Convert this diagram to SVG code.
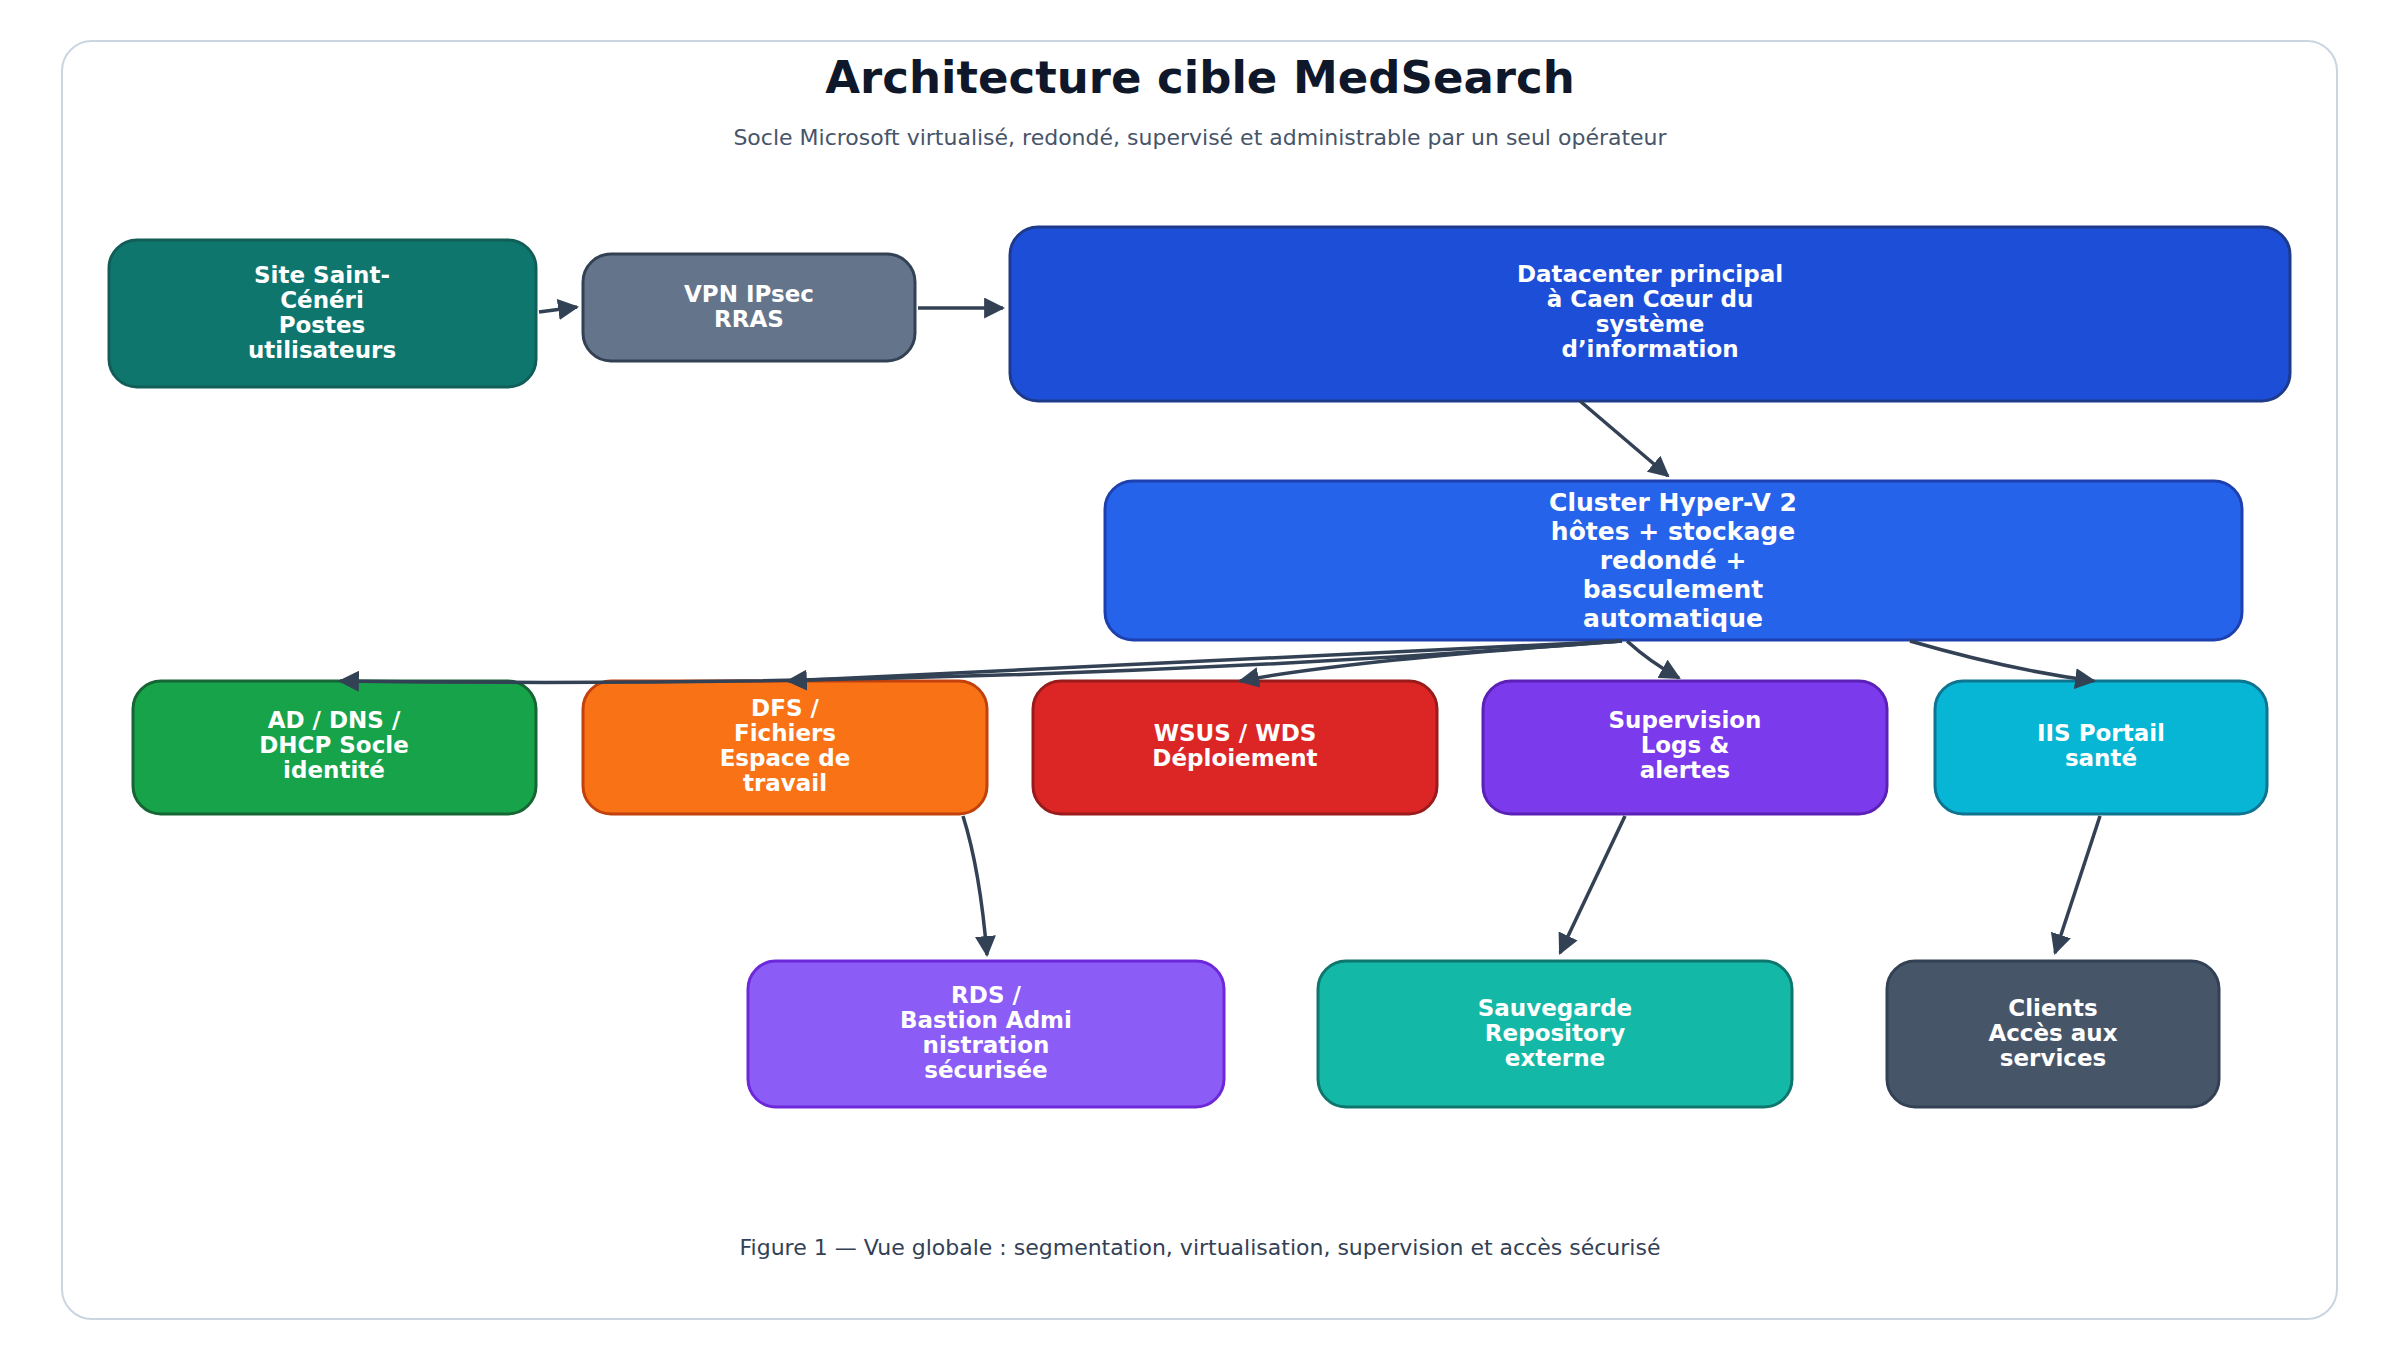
<svg xmlns="http://www.w3.org/2000/svg" width="2400" height="1362" viewBox="0 0 2400 1362">
<defs>
<marker id="ah" viewBox="0 0 10 10" refX="9" refY="5" markerWidth="6" markerHeight="6" markerUnits="strokeWidth" orient="auto"><path d="M0,0 L10,5 L0,10 z" fill="#334155"/></marker>
<style>
.n{stroke-width:3}
.t{font-family:"DejaVu Sans",sans-serif;font-weight:bold;font-size:23px;fill:#fff;text-anchor:middle}
.c path{fill:none;stroke:#334155;stroke-width:3.5;marker-end:url(#ah)}
</style>
</defs>
<rect width="2400" height="1362" fill="#fff"/>
<rect x="62" y="41" width="2275" height="1278" rx="30" fill="#fff" stroke="#cbd5e1" stroke-width="2"/>
<text x="1200" y="93" font-family="DejaVu Sans,sans-serif" font-weight="bold" font-size="45" fill="#0f172a" text-anchor="middle">Architecture cible MedSearch</text>
<text x="1200" y="145" font-family="DejaVu Sans,sans-serif" font-size="22" fill="#475569" text-anchor="middle">Socle Microsoft virtualisé, redondé, supervisé et administrable par un seul opérateur</text>
<g id="site"><rect class="n" x="109" y="240" width="427" height="147" rx="28" fill="#0f766e" stroke="#115e59"/><text class="t" x="322" y="283">Site Saint-<tspan x="322" dy="25">Cénéri</tspan><tspan x="322" dy="25">Postes</tspan><tspan x="322" dy="25">utilisateurs</tspan></text></g>
<g id="vpn"><rect class="n" x="583" y="254" width="332" height="107" rx="28" fill="#64748b" stroke="#334155"/><text class="t" x="749" y="302">VPN IPsec<tspan x="749" dy="25">RRAS</tspan></text></g>
<g id="dc"><rect class="n" x="1010" y="227" width="1280" height="174" rx="28" fill="#1d4ed8" stroke="#1e3a8a"/><text class="t" x="1650" y="282">Datacenter principal<tspan x="1650" dy="25">à Caen Cœur du</tspan><tspan x="1650" dy="25">système</tspan><tspan x="1650" dy="25">d’information</tspan></text></g>
<g id="cluster"><rect class="n" x="1105" y="481" width="1137" height="159" rx="28" fill="#2563eb" stroke="#1e40af"/><text class="t" style="font-size:25px" x="1673" y="511">Cluster Hyper-V 2<tspan x="1673" dy="29">hôtes + stockage</tspan><tspan x="1673" dy="29">redondé +</tspan><tspan x="1673" dy="29">basculement</tspan><tspan x="1673" dy="29">automatique</tspan></text></g>
<g id="ad"><rect class="n" x="133" y="681" width="403" height="133" rx="28" fill="#16a34a" stroke="#166534"/><text class="t" x="334" y="728">AD / DNS /<tspan x="334" dy="25">DHCP Socle</tspan><tspan x="334" dy="25">identité</tspan></text></g>
<g id="dfs"><rect class="n" x="583" y="681" width="404" height="133" rx="28" fill="#f97316" stroke="#c2410c"/><text class="t" x="785" y="716">DFS /<tspan x="785" dy="25">Fichiers</tspan><tspan x="785" dy="25">Espace de</tspan><tspan x="785" dy="25">travail</tspan></text></g>
<g id="wsus"><rect class="n" x="1033" y="681" width="404" height="133" rx="28" fill="#dc2626" stroke="#991b1b"/><text class="t" x="1235" y="741">WSUS / WDS<tspan x="1235" dy="25">Déploiement</tspan></text></g>
<g id="sup"><rect class="n" x="1483" y="681" width="404" height="133" rx="28" fill="#7c3aed" stroke="#5b21b6"/><text class="t" x="1685" y="728">Supervision<tspan x="1685" dy="25">Logs &amp;</tspan><tspan x="1685" dy="25">alertes</tspan></text></g>
<g id="iis"><rect class="n" x="1935" y="681" width="332" height="133" rx="28" fill="#06b6d4" stroke="#0e7490"/><text class="t" x="2101" y="741">IIS Portail<tspan x="2101" dy="25">santé</tspan></text></g>
<g id="rds"><rect class="n" x="748" y="961" width="476" height="146" rx="28" fill="#8b5cf6" stroke="#6d28d9"/><text class="t" x="986" y="1003">RDS /<tspan x="986" dy="25">Bastion Admi</tspan><tspan x="986" dy="25">nistration</tspan><tspan x="986" dy="25">sécurisée</tspan></text></g>
<g id="save"><rect class="n" x="1318" y="961" width="474" height="146" rx="28" fill="#14b8a6" stroke="#0f766e"/><text class="t" x="1555" y="1016">Sauvegarde<tspan x="1555" dy="25">Repository</tspan><tspan x="1555" dy="25">externe</tspan></text></g>
<g id="clients"><rect class="n" x="1887" y="961" width="332" height="146" rx="28" fill="#475569" stroke="#334155"/><text class="t" x="2053" y="1016">Clients<tspan x="2053" dy="25">Accès aux</tspan><tspan x="2053" dy="25">services</tspan></text></g>
<g id="connectors" class="c">
<path d="M539,312 L577,307"/>
<path d="M918,308 L1003,308"/>
<path d="M1580,401 L1668,476"/>
<path d="M1622,641 Q1000,690 340,681"/>
<path d="M1622,641 L788,681"/>
<path d="M1622,641 Q1350,660 1240,681"/>
<path d="M1627,641 Q1650,662 1679,678"/>
<path d="M1910,641 Q2010,670 2094,681"/>
<path d="M963,816 Q980,870 987,955"/>
<path d="M1625,816 L1560,953"/>
<path d="M2100,816 L2055,953"/>
</g>
<text x="1200" y="1255" font-family="DejaVu Sans,sans-serif" font-size="22" fill="#334155" text-anchor="middle">Figure 1 — Vue globale : segmentation, virtualisation, supervision et accès sécurisé</text>
</svg>
